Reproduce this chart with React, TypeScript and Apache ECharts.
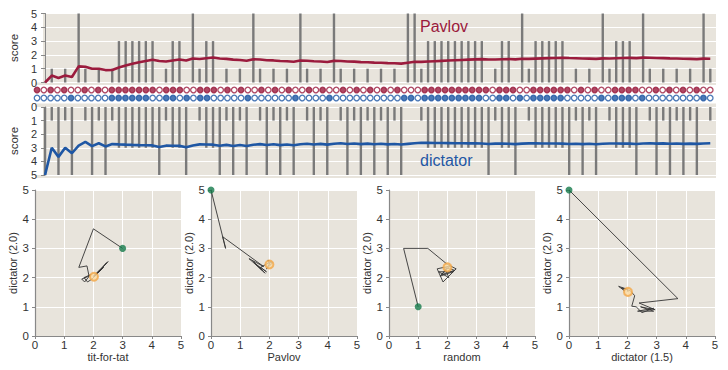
import React, { useEffect, useRef } from "react";
import * as echarts from "echarts";

// Per-round payoffs (top: Pavlov, bottom: dictator)
const pavlovScores = [0,1,0,1,0,5,1,0,1,0, 1,3,3,3,3,3,3,0,1,3, 3,0,5,1,3,3,0,1,0,1, 0,5,1,0,1,0,1,0,5,1, 0,1,0,5,1,0,1,0,1,0, 1,0,1,0,5,5,1,3,3,3, 3,3,3,3,3,3,0,1,3,3, 0,5,1,3,3,3,3,3,0,1, 0,1,0,5,1,3,3,3,0,5, 1,0,1,0,1,0,1,0,5,1];
const dictatorScores = [5,1,5,1,5,0,1,5,1,5, 1,3,3,3,3,3,3,5,1,3, 3,5,0,1,3,3,5,1,5,1, 5,0,1,5,1,5,1,5,0,1, 5,1,5,0,1,5,1,5,1,5, 1,5,1,5,0,0,1,3,3,3, 3,3,3,3,3,3,5,1,3,3, 5,0,1,3,3,3,3,3,5,1, 5,1,5,0,1,3,3,3,5,0, 1,5,1,5,1,5,1,5,0,1];
// Moves (C = filled circle, D = open circle)
const pavlovMoves = "CDCDCDDCDC" + "DCCCCCCCDC" + "CCDDCCCDCD" + "CDDCDCDCDD" + "CDCDDCDCDC" + "DCDCDDDCCC" + "CCCCCCCDCC" + "CDDCCCCCCD" + "CDCDDCCCCD" + "DCDCDCDCDD";
const dictatorMoves = "DDDDDCDDDD" + "DCCCCCCDDC" + "CDCDCCDDDD" + "DCDDDDDDCD" + "DDDCDDDDDD" + "DDDDCCDCCC" + "CCCCCCDDCC" + "DCDCCCCCDD" + "DDDCDCCCDC" + "DDDDDDDDCD";

// Trajectories of average scores (x: opponent, y: dictator (2.0))
const pathTitForTat = [[3,3],[2.0,3.67],[1.5,2.35],[1.78,2.4],[1.85,2.05],[1.6,1.95],[1.7,1.85],[1.9,2.1],[1.68,2.0],[1.8,1.85],[1.95,1.95],[2.0,2.0],[2.35,2.35],[2.0,2.05],[2.45,2.5],[2.05,2.05],[2.5,2.55],[2.1,2.12],[2.02,2.03]];
const pathPavlov = [[0,5],[0.5,3.0],[0.4,3.4],[1.8,2.38],[1.3,2.65],[1.75,2.25],[1.45,2.55],[1.85,2.15],[1.55,2.45],[1.9,2.2],[1.7,2.35],[2.05,2.55],[1.9,2.3],[2.1,2.5],[1.95,2.6],[2.0,2.45]];
const pathRandom = [[1,1],[0.5,3.0],[1.33,3.0],[2.0,2.45],[2.3,2.3],[1.85,1.85],[1.65,2.3],[2.1,2.4],[1.75,2.05],[2.2,2.2],[1.7,2.2],[2.05,2.0],[1.9,2.35],[2.25,2.25],[1.8,2.1],[2.0,2.35]];
const pathDictator15 = [[0,5],[3.73,1.28],[2.4,1.13],[2.95,0.9],[2.45,1.0],[2.9,0.85],[2.35,0.85],[2.9,0.95],[2.5,0.8],[2.3,1.0],[2.15,1.02],[2.25,1.38],[2.1,1.55],[1.8,1.65],[1.9,1.55],[1.7,1.7],[2.0,1.6],[2.02,1.51]];

const panelNames = ["tit-for-tat", "Pavlov", "random", "dictator (1.5)"];

const BG = "#e8e4dc";
const RED = "#9b1b3d";
const BLUE = "#1f57a4";
const BAR = "#7a7a7a";
const AX = "#888";
const FONT = "Liberation Sans, Arial, sans-serif";

export default function App() {
  const ref = useRef<HTMLDivElement>(null);
  useEffect(() => {
    if (!ref.current) return;
    const chart = echarts.init(ref.current, undefined, { renderer: "svg" });
    const rounds = pavlovScores.map((_, i) => i);
    const runAvg = (arr: number[]) => {
      let s = 0;
      return arr.map((v, i) => { s += v; return [i, s / (i + 1)]; });
    };

    const scoreAxis = (gridIndex: number, inverse: boolean) => ({
      gridIndex, type: "value", min: 0, max: 5, interval: 1, inverse,
      axisLine: { show: true, lineStyle: { color: AX, width: 1 } },
      axisTick: { show: true, length: 4, lineStyle: { color: AX } },
      axisLabel: { color: "#333", fontSize: 11, margin: 6, fontFamily: FONT },
      splitLine: { show: true, lineStyle: { color: "#fff", width: 1 } },
      name: "score", nameLocation: "middle", nameGap: 17,
      nameTextStyle: { color: "#333", fontSize: 11.5, fontFamily: FONT },
    });
    const roundAxis = (gridIndex: number) => ({ gridIndex, type: "value", min: -0.3, max: 99.85, show: false });

    const panelLefts = [35, 211, 389, 569];
    const grids: any[] = [
      { left: 35, top: 13.5, width: 681, height: 69, show: true, backgroundColor: BG, borderWidth: 0 },
      { left: 35, top: 86, width: 681, height: 16 },
      { left: 35, top: 107, width: 681, height: 68, show: true, backgroundColor: BG, borderWidth: 0 },
      ...panelLefts.map((l) => ({ left: l, top: 190, width: 146, height: 146, show: true, backgroundColor: BG, borderWidth: 0 })),
    ];
    const xAxes: any[] = [roundAxis(0), roundAxis(1), roundAxis(2)];
    const yAxes: any[] = [
      scoreAxis(0, false),
      { gridIndex: 1, type: "category", data: ["d", "p"], show: false },
      scoreAxis(2, true),
    ];
    panelNames.forEach((nm, k) => {
      const common = {
        gridIndex: 3 + k, type: "value", min: 0, max: 5, interval: 1,
        axisTick: { show: true, length: 3, lineStyle: { color: AX } },
        splitLine: { show: true, lineStyle: { color: "#fff", width: 1 } },
        nameLocation: "middle",
        nameTextStyle: { color: "#333", fontSize: 11, fontFamily: FONT },
      };
      xAxes.push({
        ...common, name: nm, nameGap: 14,
        axisLine: { show: true, onZero: false, lineStyle: { color: AX, width: 1.2 } },
        axisLabel: { color: "#333", fontSize: 11.5, margin: 3, fontFamily: FONT },
      });
      yAxes.push({
        ...common, name: "dictator (2.0)", nameGap: 15,
        axisLine: { show: true, onZero: false, lineStyle: { color: AX, width: 1.2 } },
        axisLabel: { color: "#333", fontSize: 11.5, margin: 6, fontFamily: FONT },
      });
    });

    const moveData = (moves: string, row: string, color: string) =>
      rounds.map((i) => ({
        value: [i, row],
        itemStyle: { color: moves[i] === "C" ? color : "#fff", borderColor: color, borderWidth: 1.3 },
      }));

    const series: any[] = [
      { type: "bar", xAxisIndex: 0, yAxisIndex: 0, data: rounds.map((i) => [i, pavlovScores[i]]), barWidth: 2.4, itemStyle: { color: BAR }, silent: true },
      { type: "line", xAxisIndex: 0, yAxisIndex: 0, data: runAvg(pavlovScores), showSymbol: false, lineStyle: { color: RED, width: 2.6 }, z: 5 },
      { type: "scatter", xAxisIndex: 1, yAxisIndex: 1, data: moveData(pavlovMoves, "p", RED), symbolSize: 5.6 },
      { type: "scatter", xAxisIndex: 1, yAxisIndex: 1, data: moveData(dictatorMoves, "d", BLUE), symbolSize: 5.6 },
      { type: "bar", xAxisIndex: 2, yAxisIndex: 2, data: rounds.map((i) => [i, dictatorScores[i]]), barWidth: 2.4, itemStyle: { color: BAR }, silent: true },
      { type: "line", xAxisIndex: 2, yAxisIndex: 2, data: runAvg(dictatorScores), showSymbol: false, lineStyle: { color: BLUE, width: 2.6 }, z: 5 },
    ];
    [pathTitForTat, pathPavlov, pathRandom, pathDictator15].forEach((p, k) => {
      series.push({ type: "line", xAxisIndex: 3 + k, yAxisIndex: 3 + k, data: p, showSymbol: false, lineStyle: { color: "#333", width: 0.9 }, z: 3 });
      series.push({ type: "scatter", xAxisIndex: 3 + k, yAxisIndex: 3 + k, data: [p[0]], symbolSize: 7, itemStyle: { color: "#157a4b" }, z: 4 });
      series.push({ type: "scatter", xAxisIndex: 3 + k, yAxisIndex: 3 + k, data: [p[p.length - 1]], symbolSize: 8, itemStyle: { color: "#fbd9a0", borderColor: "#f3a848", borderWidth: 2 }, z: 4 });
    });

    chart.setOption({
      animation: false,
      textStyle: { fontFamily: FONT },
      grid: grids,
      xAxis: xAxes,
      yAxis: yAxes,
      series,
      graphic: [
        { type: "rect", shape: { x: 35, y: 82.5, width: 681, height: 2.5 }, style: { fill: BG }, silent: true },
        { type: "rect", shape: { x: 35, y: 103.5, width: 681, height: 3.5 }, style: { fill: BG }, silent: true },
        { type: "rect", shape: { x: 35, y: 175, width: 681, height: 3 }, style: { fill: BG }, silent: true },
        { type: "text", left: 420, top: 18, z: 100, style: { text: "Pavlov", fill: RED, font: `16px ${FONT}` } },
        { type: "text", left: 420, top: 152, z: 100, style: { text: "dictator", fill: BLUE, font: `16px ${FONT}` } },
      ],
    });
    return () => chart.dispose();
  }, []);
  return <div ref={ref} style={{ position: "absolute", left: 0, top: 0, width: 728, height: 370 }} />;
}
